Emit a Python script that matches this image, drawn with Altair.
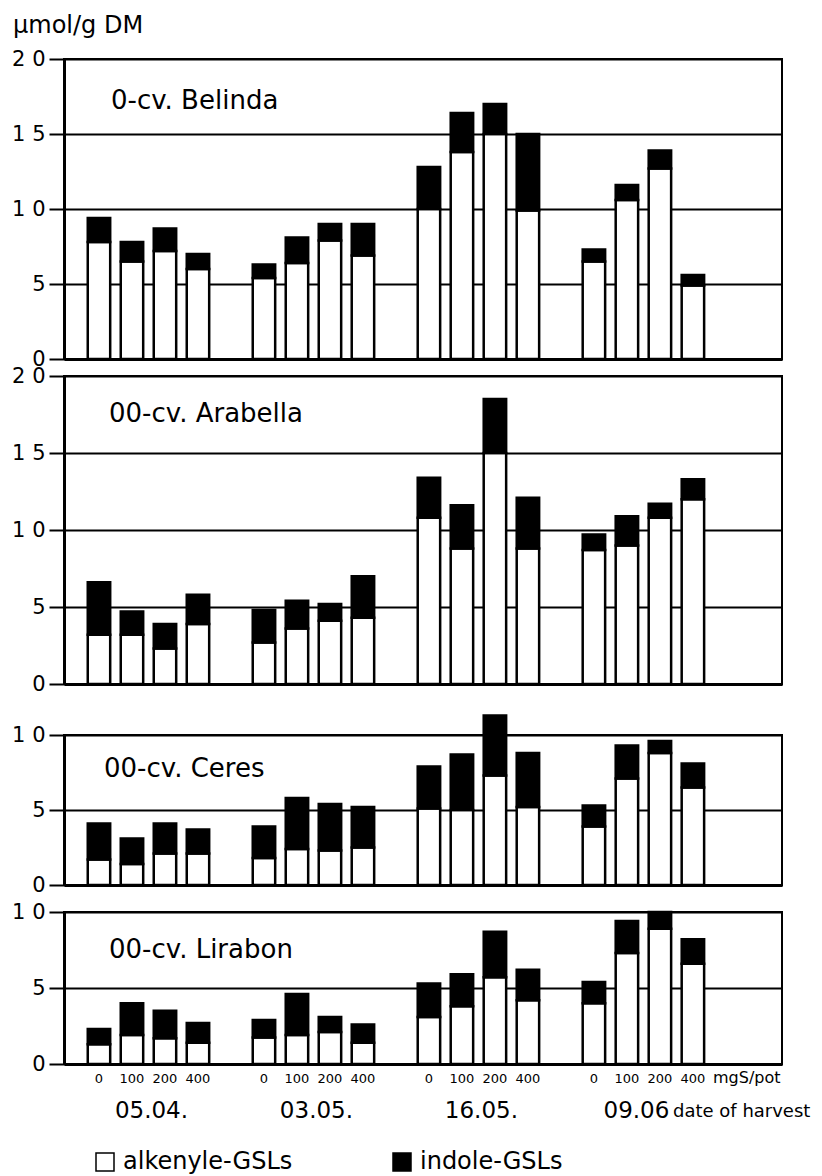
import altair as alt
import pandas as pd

FONT = "DejaVu Sans"

dates = ["05.04.", "03.05.", "16.05.", "09.06"]
s_levels = [0, 100, 200, 400]
cultivars = ["0-cv. Belinda", "00-cv. Arabella", "00-cv. Ceres", "00-cv. Lirabon"]
components = ["alkenyle-GSLs", "indole-GSLs"]

# values in µmol/g DM, order: date x S level (0,100,200,400)
belinda_alk = [7.8, 6.5, 7.2, 6.0, 5.4, 6.4, 7.9, 6.9, 10.0, 13.8, 15.0, 9.9, 6.5, 10.6, 12.7, 4.9]
belinda_ind = [1.6, 1.3, 1.5, 1.0, 0.9, 1.7, 1.1, 2.1, 2.8, 2.6, 2.0, 5.1, 0.8, 1.0, 1.2, 0.7]
arabella_alk = [3.2, 3.2, 2.3, 3.9, 2.7, 3.6, 4.1, 4.3, 10.8, 8.8, 15.0, 8.8, 8.7, 9.0, 10.8, 12.0]
arabella_ind = [3.4, 1.5, 1.6, 1.9, 2.1, 1.8, 1.1, 2.7, 2.6, 2.8, 3.5, 3.3, 1.0, 1.9, 0.9, 1.3]
ceres_alk = [1.7, 1.4, 2.1, 2.1, 1.8, 2.4, 2.3, 2.5, 5.1, 5.0, 7.3, 5.2, 3.9, 7.1, 8.8, 6.5]
ceres_ind = [2.4, 1.7, 2.0, 1.6, 2.1, 3.4, 3.1, 2.7, 2.8, 3.7, 4.0, 3.6, 1.4, 2.2, 0.8, 1.6]
lirabon_alk = [1.3, 1.9, 1.7, 1.4, 1.75, 1.9, 2.1, 1.4, 3.1, 3.8, 5.7, 4.2, 4.0, 7.3, 8.9, 6.6]
lirabon_ind = [1.0, 2.1, 1.8, 1.3, 1.15, 2.7, 1.0, 1.2, 2.2, 2.1, 3.0, 2.0, 1.4, 2.1, 1.1, 1.6]

y_max = [20, 20, 10, 10]
y_ticks = {20: [0, 5, 10, 15, 20], 10: [0, 5, 10]}

alk_all = [belinda_alk, arabella_alk, ceres_alk, lirabon_alk]
ind_all = [belinda_ind, arabella_ind, ceres_ind, lirabon_ind]

heights = [300, 308, 150, 152]
gaps = [17, 51, 27]
W = 718

xscale = alt.Scale(domain=[-0.06, 21.7], nice=False, zero=False)
xaxis = alt.Axis(labels=False, ticks=False, grid=False, domainWidth=3,
                 domainColor="black", title=None)

legend = alt.Legend(orient="none", legendX=29, legendY=1091, direction="horizontal",
                    title=None, symbolType="square", symbolSize=324,
                    symbolStrokeColor="black", symbolStrokeWidth=1.5,
                    labelFontSize=24, labelFont=FONT, labelColor="black",
                    labelLimit=400, labelOffset=6, columnPadding=97)

color = alt.Color("comp:N", scale=alt.Scale(domain=components, range=["white", "black"]),
                  legend=legend)


def build_table(i):
    rows = []
    for j in range(16):
        g, s = divmod(j, 4)
        pos = g * 5 + s + 1
        a = alk_all[i][j]
        b = ind_all[i][j]
        rows.append(dict(pos=pos, lo=pos - 0.34, hi=pos + 0.34, y0=0, y1=a,
                         comp=components[0], s=str(s_levels[s]), date=dates[g]))
        rows.append(dict(pos=pos, lo=pos - 0.34, hi=pos + 0.34, y0=a, y1=a + b,
                         comp=components[1], s=str(s_levels[s]), date=dates[g]))
    return pd.DataFrame(rows)


label_expr = ("datum.value == 20 ? '2 0' : datum.value == 15 ? '1 5' : "
              "datum.value == 10 ? '1 0' : datum.label")


def panel(i):
    df = build_table(i)
    ymax = y_max[i]
    h = heights[i]
    yaxis = alt.Axis(values=y_ticks[ymax], grid=True, gridColor="black", gridWidth=2,
                     gridOpacity=1, tickColor="black", tickWidth=2, tickSize=15,
                     domainColor="black", domainWidth=3, labelFontSize=21,
                     labelFont=FONT, labelColor="black", labelPadding=4,
                     labelExpr=label_expr, title=None)
    yscale = alt.Scale(domain=[0, ymax], nice=False, zero=False)
    bars = alt.Chart(df).mark_bar(stroke="black", strokeWidth=2.5).encode(
        x=alt.X("lo:Q", scale=xscale, axis=xaxis),
        x2="hi:Q",
        y=alt.Y("y0:Q", scale=yscale, axis=yaxis),
        y2="y1:Q",
        fill=color,
    )
    title = alt.Chart(pd.DataFrame({"t": [cultivars[i]]})).mark_text(
        align="left", baseline="alphabetic", fontSize=26, font=FONT, color="black"
    ).encode(x=alt.value([47, 45, 40, 45][i]), y=alt.value([50, 46, 42, 46][i]), text="t:N")
    layers = [bars, title]
    if i == 0:
        unit = alt.Chart(pd.DataFrame({"t": ["µmol/g DM"]})).mark_text(
            align="left", baseline="alphabetic", fontSize=24, font=FONT, color="black"
        ).encode(x=alt.value(-51), y=alt.value(-26), text="t:N")
        layers.append(unit)
    if i == 3:
        alk_rows = df[df["comp"] == components[0]]
        slab = alt.Chart(alk_rows).mark_text(
            baseline="middle", fontSize=13, font=FONT, color="black"
        ).encode(x=alt.X("pos:Q", scale=xscale, axis=xaxis), y=alt.value(h + 15), text="s:N")
        ddf = pd.DataFrame({"date": dates, "center": [g * 5 + 2.5 for g in range(4)]})
        dlab = alt.Chart(ddf.iloc[:3]).mark_text(
            baseline="alphabetic", fontSize=23, font=FONT, color="black", dx=3
        ).encode(x=alt.X("center:Q", scale=xscale, axis=xaxis), y=alt.value(h + 54), text="date:N")
        dlab_last = alt.Chart(ddf.iloc[3:]).mark_text(
            baseline="alphabetic", fontSize=23, font=FONT, color="black", dx=-7
        ).encode(x=alt.X("center:Q", scale=xscale, axis=xaxis), y=alt.value(h + 54), text="date:N")
        mg = alt.Chart(pd.DataFrame({"t": ["mgS/pot"]})).mark_text(
            align="left", baseline="middle", fontSize=16, font=FONT, color="black"
        ).encode(x=alt.value(649), y=alt.value(h + 14), text="t:N")
        doh = alt.Chart(pd.DataFrame({"t": ["date of harvest"]})).mark_text(
            align="left", baseline="alphabetic", fontSize=18, font=FONT, color="black"
        ).encode(x=alt.value(609), y=alt.value(h + 53), text="t:N")
        layers += [slab, dlab, dlab_last, mg, doh]
    return alt.layer(*layers).properties(
        width=W, height=h, view=alt.ViewBackground(stroke="black", strokeWidth=2)
    )


def spacer(h):
    return alt.Chart(pd.DataFrame({"a": [0]})).mark_point(opacity=0).encode(
        x=alt.value(0), y=alt.value(0)
    ).properties(width=W, height=h,
                 view=alt.ViewBackground(strokeWidth=0, strokeOpacity=0, fillOpacity=0))


chart = alt.vconcat(
    panel(0), spacer(gaps[0]), panel(1), spacer(gaps[1]), panel(2), spacer(gaps[2]), panel(3),
    spacing=0, bounds="flush"
).resolve_scale(color="shared").properties(
    padding={"left": 2, "top": 5, "right": 2, "bottom": 0}
).configure_view(strokeWidth=0).configure(background="white")

chart.save("out.html", embed_options={"renderer": "svg", "actions": False})
